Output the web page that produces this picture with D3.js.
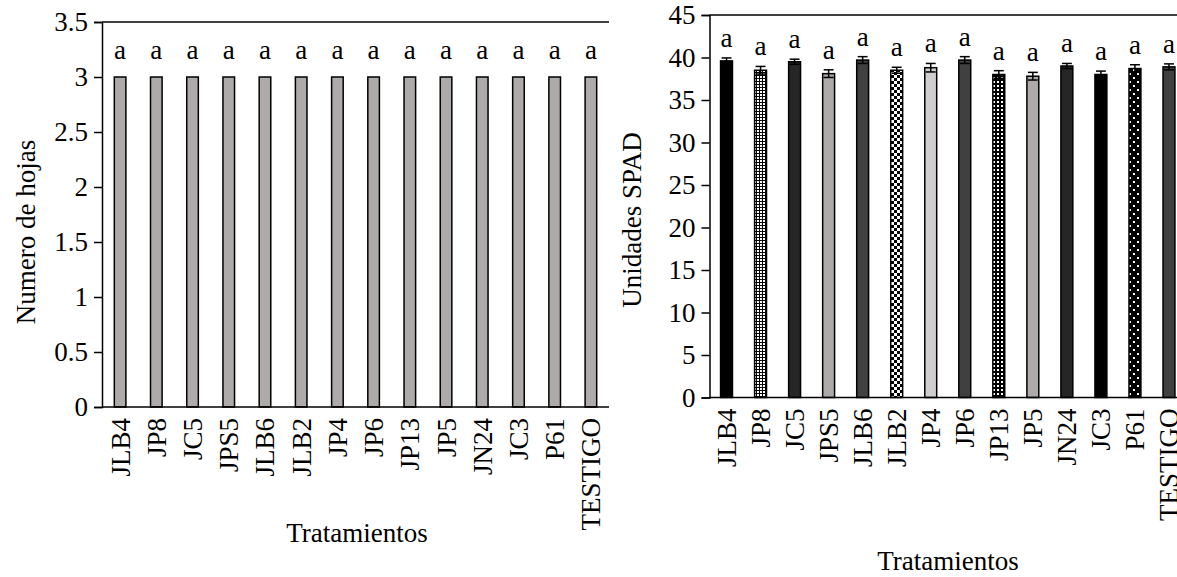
<!DOCTYPE html>
<html>
<head>
<meta charset="utf-8">
<script src="https://cdn.jsdelivr.net/npm/d3@7"></script>
<style>
  html, body { margin: 0; padding: 0; background: #fff; }
  svg { display: block; font-family: "Liberation Serif", "Times New Roman", serif; }
</style>
</head>
<body>
<svg id="chart" width="1177" height="577"></svg>
<script>
// Treatments shared by both panels
const treatments = ["JLB4", "JP8", "JC5", "JPS5", "JLB6", "JLB2", "JP4", "JP6", "JP13", "JP5", "JN24", "JC3", "P61", "TESTIGO"];

// Panel A: number of leaves per treatment
const leafCounts = [3, 3, 3, 3, 3, 3, 3, 3, 3, 3, 3, 3, 3, 3];
const leafLetters = ["a", "a", "a", "a", "a", "a", "a", "a", "a", "a", "a", "a", "a", "a"];
const leafTicks = [0, 0.5, 1, 1.5, 2, 2.5, 3, 3.5];

// Panel B: SPAD units (mean and standard error)
const spadMeans = [39.6, 38.5, 39.5, 38.1, 39.7, 38.5, 38.8, 39.7, 38.0, 37.8, 39.0, 38.0, 38.7, 38.9];
const spadErrors = [0.35, 0.45, 0.3, 0.45, 0.4, 0.35, 0.5, 0.4, 0.45, 0.45, 0.3, 0.4, 0.45, 0.35];
const spadLetters = ["a", "a", "a", "a", "a", "a", "a", "a", "a", "a", "a", "a", "a", "a"];
const spadTicks = [0, 5, 10, 15, 20, 25, 30, 35, 40, 45];

// Fill of each treatment bar in panel B
const spadFills = ["#000000", "url(#pFineGrid)", "#262626", "#aeaaaa", "#404040", "url(#pChecker)",
                   "#d0cece", "#404040", "url(#pDotGrid)", "#aeaaaa", "#262626", "#000000",
                   "url(#pSparseDots)", "#404040"];

const svg = d3.select("#chart");
const FONT = 27;

// ---- patterns ----
const defs = svg.append("defs");
function pattern(id, w, h, draw) {
  const p = defs.append("pattern").attr("id", id).attr("patternUnits", "userSpaceOnUse")
    .attr("width", w).attr("height", h);
  draw(p);
}
pattern("pFineGrid", 3, 3, p => {
  p.append("rect").attr("width", 3).attr("height", 3).attr("fill", "#000");
  p.append("rect").attr("x", 1).attr("y", 1).attr("width", 2).attr("height", 2).attr("fill", "#fff");
});
pattern("pChecker", 6, 6, p => {
  p.append("rect").attr("width", 6).attr("height", 6).attr("fill", "#fff");
  p.append("rect").attr("width", 3).attr("height", 3).attr("fill", "#000");
  p.append("rect").attr("x", 3).attr("y", 3).attr("width", 3).attr("height", 3).attr("fill", "#000");
});
pattern("pDotGrid", 4, 4, p => {
  p.append("rect").attr("width", 4).attr("height", 4).attr("fill", "#000");
  p.append("rect").attr("x", 1).attr("y", 1).attr("width", 2).attr("height", 2).attr("fill", "#fff");
});
pattern("pSparseDots", 8, 8, p => {
  p.append("rect").attr("width", 8).attr("height", 8).attr("fill", "#000");
  p.append("rect").attr("x", 1).attr("y", 1).attr("width", 2).attr("height", 2).attr("fill", "#fff");
  p.append("rect").attr("x", 5).attr("y", 5).attr("width", 2).attr("height", 2).attr("fill", "#fff");
});

// ---- generic panel ----
function drawPanel(opt) {
  const g = svg.append("g");
  const x = d3.scaleBand().domain(treatments).range([opt.x0, opt.x1]).padding(0);
  const y = d3.scaleLinear().domain(opt.domain).range([opt.y0, opt.y1]);
  const bw = x.bandwidth() * opt.barFrac;

  // top frame line
  g.append("line").attr("x1", opt.x0).attr("x2", opt.frameRight)
    .attr("y1", y(opt.domain[1])).attr("y2", y(opt.domain[1]))
    .attr("stroke", "#000").attr("stroke-width", 1.5);

  // y axis
  const yAxis = d3.axisLeft(y).tickValues(opt.ticks).tickSize(8).tickPadding(6)
    .tickFormat(d => String(d));
  const ya = g.append("g").attr("transform", `translate(${opt.x0},0)`).call(yAxis);
  ya.select(".domain").attr("stroke", "#000").attr("stroke-width", 1.5);
  ya.selectAll(".tick line").attr("stroke", "#000").attr("stroke-width", 1.5);
  ya.selectAll(".tick text").attr("font-size", FONT).attr("fill", "#000")
    .attr("font-family", "Liberation Serif");

  // bars
  g.selectAll("rect.bar").data(opt.values).join("rect").attr("class", "bar")
    .attr("x", (d, i) => x(treatments[i]) + (x.bandwidth() - bw) / 2)
    .attr("y", d => y(d))
    .attr("width", bw)
    .attr("height", d => y(0) - y(d))
    .attr("fill", (d, i) => opt.fills[i])
    .attr("stroke", "#000").attr("stroke-width", 1.5);

  // error bars
  if (opt.errors) {
    const cx = i => x(treatments[i]) + x.bandwidth() / 2;
    const eg = g.append("g").attr("stroke", "#000").attr("stroke-width", 1.5);
    opt.values.forEach((v, i) => {
      const e = opt.errors[i];
      eg.append("line").attr("x1", cx(i)).attr("x2", cx(i)).attr("y1", y(v - e)).attr("y2", y(v + e));
      [v - e, v + e].forEach(t => {
        eg.append("line").attr("x1", cx(i) - bw / 2 + 1).attr("x2", cx(i) + bw / 2 - 1)
          .attr("y1", y(t)).attr("y2", y(t));
      });
    });
  }

  // significance letters
  g.selectAll("text.letter").data(opt.letters).join("text").attr("class", "letter")
    .attr("x", (d, i) => x(treatments[i]) + x.bandwidth() / 2)
    .attr("y", (d, i) => y(opt.values[i] + (opt.errors ? opt.errors[i] : 0)) - opt.letterGap)
    .attr("text-anchor", "middle").attr("font-size", FONT).text(d => d);

  // x axis baseline
  g.append("line").attr("x1", opt.x0).attr("x2", opt.x1).attr("y1", y(0)).attr("y2", y(0))
    .attr("stroke", "#000").attr("stroke-width", 1.5);

  // category labels (rotated)
  g.selectAll("text.cat").data(treatments).join("text").attr("class", "cat")
    .attr("transform", d => `translate(${x(d) + x.bandwidth() / 2 + 9.5},${y(0) + 11}) rotate(-90)`)
    .attr("text-anchor", "end").attr("font-size", FONT).text(d => d);

  // axis titles
  g.append("text").attr("x", opt.xTitle[0]).attr("y", opt.xTitle[1])
    .attr("text-anchor", "middle").attr("font-size", FONT).text("Tratamientos");
  g.append("text").attr("transform", `translate(${opt.yTitle[0]},${opt.yTitle[1]}) rotate(-90)`)
    .attr("text-anchor", "middle").attr("font-size", FONT).text(opt.yLabel);
}

drawPanel({
  x0: 102, x1: 609, frameRight: 609, y0: 407, y1: 22,
  domain: [0, 3.5], ticks: leafTicks, values: leafCounts, letters: leafLetters,
  fills: leafCounts.map(() => "#aeaaaa"), barFrac: 0.32, letterGap: 18,
  xTitle: [357, 542], yTitle: [35, 232], yLabel: "Numero de hojas"
});

drawPanel({
  x0: 709.5, x1: 1186, frameRight: 1186, y0: 397.5, y1: 15,
  domain: [0, 45], ticks: spadTicks, values: spadMeans, errors: spadErrors, letters: spadLetters,
  fills: spadFills, barFrac: 0.35, letterGap: 11,
  xTitle: [948, 570], yTitle: [641, 220], yLabel: "Unidades SPAD"
});
</script>
</body>
</html>
